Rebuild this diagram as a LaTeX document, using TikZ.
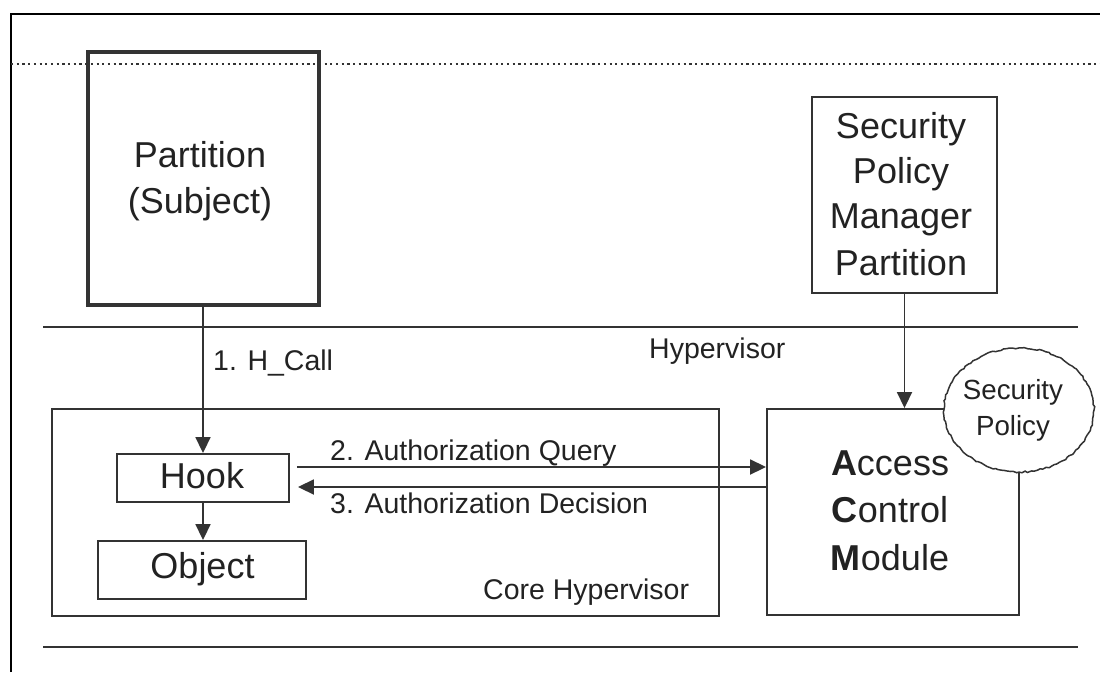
\documentclass[tikz,border=0pt]{standalone}
\usepackage{fontspec}
\setmainfont{Liberation Sans}
\usetikzlibrary{arrows.meta,shapes.geometric,decorations.pathmorphing}
\definecolor{ink}{HTML}{333333}
\definecolor{txt}{HTML}{222222}
\begin{document}
\begin{tikzpicture}[x=1pt,y=-1pt,
  box/.style={draw=ink, line width=1.9pt, rectangle, inner sep=0pt},
  big/.style={font=\fontsize{36}{44}\selectfont, text=txt, anchor=base, inner sep=0pt},
  mid/.style={font=\fontsize{27.7}{34}\selectfont, text=txt, anchor=base, inner sep=0pt},
  small/.style={font=\fontsize{28.5}{34}\selectfont, text=txt, anchor=base west, inner sep=0pt},
  arr/.style={draw=ink, line width=1.8pt, -{Triangle[length=16pt,width=15pt]}},
  rule/.style={draw=ink, line width=1.9pt},
]
\useasboundingbox (0,0) rectangle (1100,672);

% page frame and layer separators
\draw[black, line width=1.6pt] (11,672) -- (11,14) -- (1100,14);
\draw[rule, line width=2.2pt, dash pattern=on 2.2pt off 3.5pt] (11,64) -- (1100,64);
\draw[rule] (43,327) -- (1078,327);
\draw[rule] (43,647) -- (1078,647);

% boxes
\node[box, line width=3.6pt, minimum width=231pt, minimum height=253pt] (part) at (203.5,178.5) {};
\node[box, minimum width=185pt, minimum height=196pt] (spm) at (904.5,195) {};
\node[box, minimum width=667pt, minimum height=207pt] (core) at (385.5,512.5) {};
\node[box, minimum width=172pt, minimum height=48pt] (hook) at (203,478) {};
\node[box, minimum width=208pt, minimum height=58pt] (obj) at (202,570) {};
\node[box, minimum width=252pt, minimum height=206pt] (acm) at (893,512) {};
\node[ellipse, draw=ink, line width=1.5pt, fill=white, minimum width=150pt,
      minimum height=124pt, inner sep=0pt, decorate,
      decoration={random steps, segment length=3pt, amplitude=0.8pt}] (pol) at (1019,410) {};

% box texts
\node[big] (partA) at (200,167) {Partition};
\node[big] (partB) at (200,213) {(Subject)};
\node[big] (spmA) at (901,138) {Security};
\node[big] (spmB) at (901,183) {Policy};
\node[big] (spmC) at (901,228) {Manager};
\node[big] (spmD) at (901,275) {Partition};
\node[big] (hookT) at (202,488) {Hook};
\node[big] (objT) at (202.5,578) {Object};
\node[big] (acmA) at (890,475) {\textbf{A}ccess};
\node[big] (acmB) at (890,522) {\textbf{C}ontrol};
\node[big] (acmC) at (890,570) {\textbf{M}odule};
\node[mid] (polA) at (1013,399) {Security};
\node[mid] (polB) at (1013,435) {Policy};

% layer and message labels
\node[small] (hyp) at (649,358) {Hypervisor};
\node[small] (corehyp) at (483,599) {Core Hypervisor};
\node[small] (lblA) at (213,370) {1. H\_Call};
\node[small] (lblB) at (330,460) {2. Authorization Query};
\node[small] (lblC) at (330,513) {3. Authorization Decision};

% connectors
\draw[arr] (hook.north |- part.south) -- (hook.north);
\draw[arr] (hook.south) -- (hook.south |- obj.north);
\draw[arr] (spm.south) -- (spm.south |- acm.north);
\coordinate (qstart) at ([shift={(7,-11)}]hook.east);
\coordinate (dend) at ([shift={(8,9)}]hook.east);
\draw[arr] (qstart) -- (qstart -| acm.west);
\draw[arr] (dend -| acm.west) -- (dend);
\end{tikzpicture}
\end{document}
